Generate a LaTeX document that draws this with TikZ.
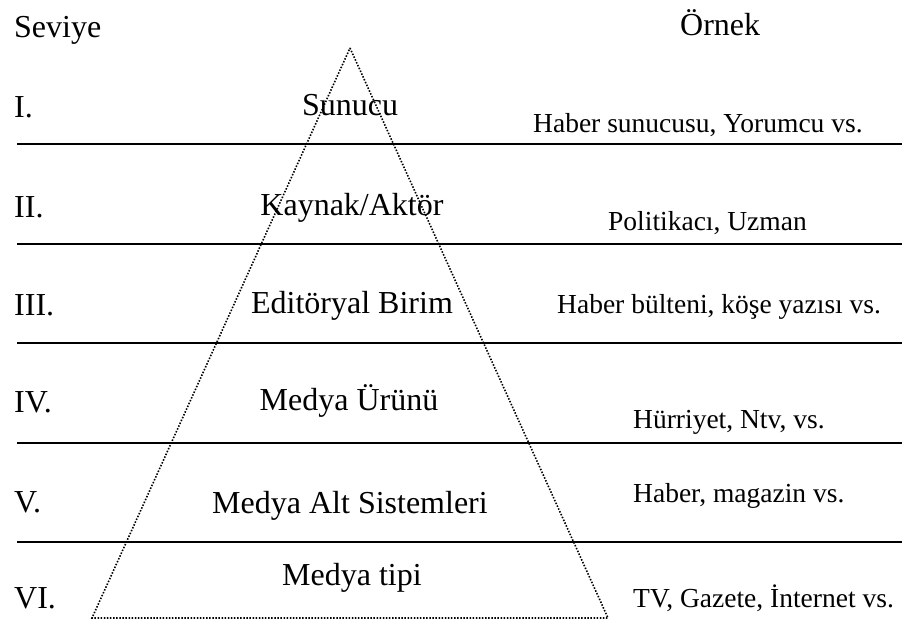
\documentclass[tikz,border=0pt]{standalone}
\usepackage{fontspec}
\setmainfont{Liberation Serif}
\begin{document}
\begin{tikzpicture}[x=1pt,y=-1pt,
  big/.style={inner sep=0pt,font=\fontsize{32}{38}\selectfont},
  small/.style={inner sep=0pt,anchor=base west,font=\fontsize{27.5}{33}\selectfont},
  level/.style={big,anchor=base west},
  tier/.style={big,anchor=base},
  rule/.style={line width=1.9pt,black},
  pyramid/.style={line width=1.6pt,black,dash pattern=on 1.5pt off 1.6pt}]
\useasboundingbox (0,0) rectangle (902,621);

% separators between the levels
\foreach \yy in {144,244,343,443,542}
  \draw[rule] (17,\yy) -- (902,\yy);

% dotted pyramid
\coordinate (apex) at (350,48);
\coordinate (bl) at (92,618);
\coordinate (br) at (608,618);
\draw[pyramid] (apex) -- (br) -- (bl) -- cycle;

% column headers
\node[level] (hSev) at (14,37) {Seviye};
\node[level] (hOrn) at (680,35) {Örnek};

% level numbers
\node[level] (l1) at (14,117) {I.};
\node[level] (l2) at (14,217) {II.};
\node[level] (l3) at (14,315) {III.};
\node[level] (l4) at (14,412) {IV.};
\node[level] (l5) at (14,512) {V.};
\node[level] (l6) at (14,608) {VI.};

% tiers of the pyramid
\node[tier] (t1) at (350,115) {Sunucu};
\node[tier] (t2) at (352,215) {Kaynak/Aktör};
\node[tier] (t3) at (352,313) {Editöryal Birim};
\node[tier] (t4) at (349,410) {Medya Ürünü};
\node[tier] (t5) at (350,513) {Medya Alt Sistemleri};
\node[tier] (t6) at (352,585) {Medya tipi};

% examples
\node[small] (e1) at (533,132) {Haber sunucusu, Yorumcu vs.};
\node[small] (e2) at (608,230) {Politikacı, Uzman};
\node[small] (e3) at (557,313) {Haber bülteni, köşe yazısı vs.};
\node[small] (e4) at (633,428) {Hürriyet, Ntv, vs.};
\node[small] (e5) at (633,502) {Haber, magazin vs.};
\node[small] (e6) at (633,607) {TV, Gazete, İnternet vs.};
\end{tikzpicture}
\end{document}
